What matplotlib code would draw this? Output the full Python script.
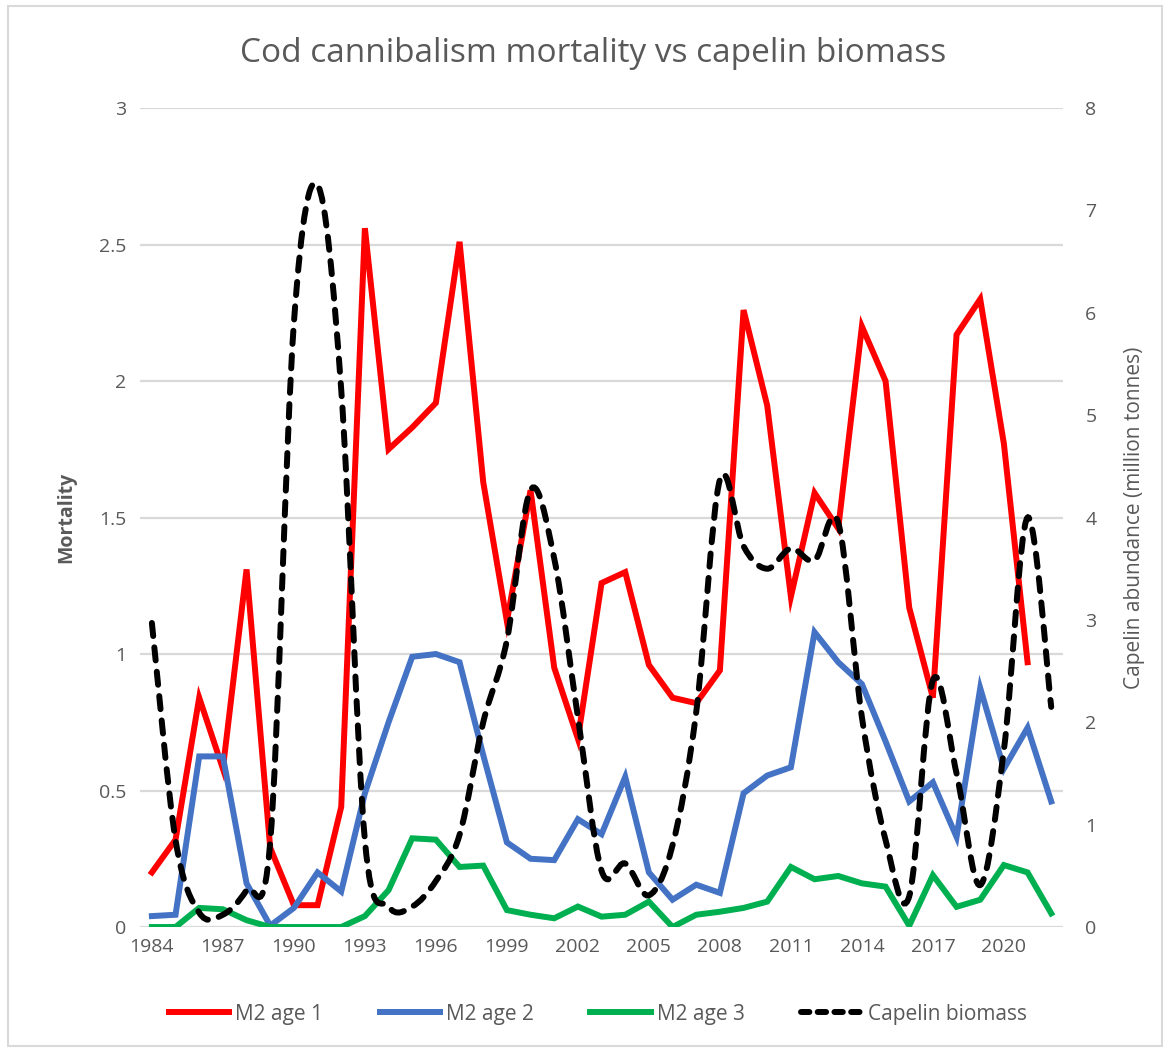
import numpy as np
import matplotlib
matplotlib.use("Agg")
import matplotlib.pyplot as plt
from matplotlib import font_manager as fm
from matplotlib.path import Path
from matplotlib.patches import PathPatch, Rectangle
from matplotlib.lines import Line2D

# ---------------- data ----------------
years = list(range(1984, 2023))
m2_age1 = [0.20, 0.32, 0.84, 0.58, 1.31, 0.29, 0.08, 0.08, 0.44, 2.56,
           1.75, 1.83, 1.92, 2.51, 1.63, 1.12, 1.60, 0.95, 0.69, 1.26,
           1.30, 0.96, 0.84, 0.82, 0.94, 2.26, 1.91, 1.21, 1.59, 1.46,
           2.20, 2.00, 1.17, 0.84, 2.17, 2.30, 1.77, 0.97, np.nan]
m2_age2 = [0.04, 0.045, 0.625, 0.625, 0.16, 0.005, 0.07, 0.20, 0.13, 0.49,
           0.75, 0.99, 1.00, 0.97, 0.63, 0.31, 0.25, 0.245, 0.395, 0.34,
           0.55, 0.20, 0.10, 0.155, 0.125, 0.49, 0.555, 0.585, 1.08, 0.97,
           0.89, 0.68, 0.46, 0.53, 0.33, 0.875, 0.58, 0.73, 0.46]
m2_age3 = [0.0, 0.0, 0.07, 0.065, 0.025, 0.0, 0.0, 0.0, 0.0, 0.04,
           0.135, 0.325, 0.32, 0.22, 0.225, 0.062, 0.045, 0.032, 0.075, 0.038,
           0.045, 0.093, 0.0, 0.045, 0.056, 0.07, 0.093, 0.22, 0.175, 0.187,
           0.16, 0.148, 0.005, 0.19, 0.074, 0.10, 0.227, 0.20, 0.05]
capelin = [2.97, 0.85, 0.14, 0.12, 0.36, 0.83, 5.90, 7.25, 5.25, 0.85,
           0.20, 0.20, 0.45, 0.90, 2.00, 2.80, 4.27, 3.60, 2.05, 0.55,
           0.62, 0.31, 0.80, 2.10, 4.37, 3.72, 3.50, 3.70, 3.58, 3.95,
           2.05, 0.85, 0.30, 2.41, 1.50, 0.41, 1.73, 4.00, 2.15]
xtick_years = list(range(1984, 2022, 3))
left_ticks = [0, 0.5, 1, 1.5, 2, 2.5, 3]
left_tick_labels = ["0", "0.5", "1", "1.5", "2", "2.5", "3"]
right_ticks = [0, 1, 2, 3, 4, 5, 6, 7, 8]

# ---------------- fonts ----------------
names = {f.name for f in fm.fontManager.ttflist}
if "Liberation Sans Narrow" in names:
    base_font = ["Liberation Sans Narrow", "DejaVu Sans"]
else:
    base_font = ["Open Sans", "DejaVu Sans"]
plt.rcParams["font.family"] = base_font

GRAY = "#595959"
GRID = "#D9D9D9"

fig = plt.figure(figsize=(11.7, 10.52), dpi=100)
ax = fig.add_axes([0.1197, 0.1188, 0.7889, 0.7785])
ax2 = ax.twinx()

lw = 4.3
ax.plot(years, m2_age1, color="#FF0000", lw=lw, solid_joinstyle="miter", zorder=3)
ax.plot(years, m2_age2, color="#4472C4", lw=lw, solid_joinstyle="miter", zorder=3)
ax.plot(years, m2_age3, color="#00B050", lw=lw, solid_joinstyle="miter", zorder=3)

# smoothed (Excel-style) curve for capelin, drawn as Bezier path through data
def smooth_path(xs, ys):
    pts = np.column_stack([xs, ys]).astype(float)
    n = len(pts)
    verts = [pts[0]]
    codes = [Path.MOVETO]
    for i in range(n - 1):
        p0 = pts[i - 1] if i > 0 else pts[i]
        p1 = pts[i]
        p2 = pts[i + 1]
        p3 = pts[i + 2] if i + 2 < n else pts[i + 1]
        c1 = p1 + (p2 - p0) / 6.0
        c2 = p2 - (p3 - p1) / 6.0
        verts += [c1, c2, p2]
        codes += [Path.CURVE4] * 3
    return Path(verts, codes)

cap_path = smooth_path(years, capelin)
patch = PathPatch(cap_path, facecolor="none", edgecolor="black", lw=lw,
                  linestyle=(0, (2.2, 1.9)), capstyle="round",
                  transform=ax2.transData, zorder=4)
ax2.add_patch(patch)

ax.set_xlim(1983.5, 2022.5)
ax.set_ylim(0, 3)
ax2.set_ylim(0, 8)

ax.set_yticks(left_ticks)
ax.set_yticklabels(left_tick_labels)
ax2.set_yticks(right_ticks)
ax.set_xticks(xtick_years)

ax.grid(axis="y", color=GRID, lw=1.6, zorder=0)
ax.set_axisbelow(True)
for a in (ax, ax2):
    for s in a.spines.values():
        s.set_visible(False)
    a.tick_params(length=0, colors=GRAY, labelsize=14)
ax.tick_params(axis="y", pad=10)
ax2.tick_params(axis="y", pad=16)
ax.tick_params(axis="x", pad=8)

ax.set_ylabel("Mortality", color=GRAY, fontsize=14, fontweight="bold",
              family=["Open Sans", "DejaVu Sans"], labelpad=16)
ax2.set_ylabel("Capelin abundance (million tonnes)", color=GRAY, fontsize=15,
               labelpad=20)

fig.text(0.507, 0.949, "Cod cannibalism mortality vs capelin biomass",
         ha="center", va="center", fontsize=24, color=GRAY)

handles = [
    Line2D([], [], color="#FF0000", lw=lw),
    Line2D([], [], color="#4472C4", lw=lw),
    Line2D([], [], color="#00B050", lw=lw),
    Line2D([], [], color="black", lw=lw, linestyle=(0, (1.4, 1.4)),
           dash_capstyle="round"),
]
fig.legend(handles, ["M2 age 1", "M2 age 2", "M2 age 3", "Capelin biomass"],
           loc="center", bbox_to_anchor=(0.511, 0.036), ncol=4, frameon=False,
           fontsize=15, labelcolor=GRAY, handlelength=2.9, handletextpad=0.3,
           columnspacing=2.7)

fig.patches.append(Rectangle((0.007, 0.006), 0.986, 0.988, transform=fig.transFigure,
                             fill=False, edgecolor=GRID, lw=1.5))

fig.savefig("out.png", dpi=100, facecolor="white")
